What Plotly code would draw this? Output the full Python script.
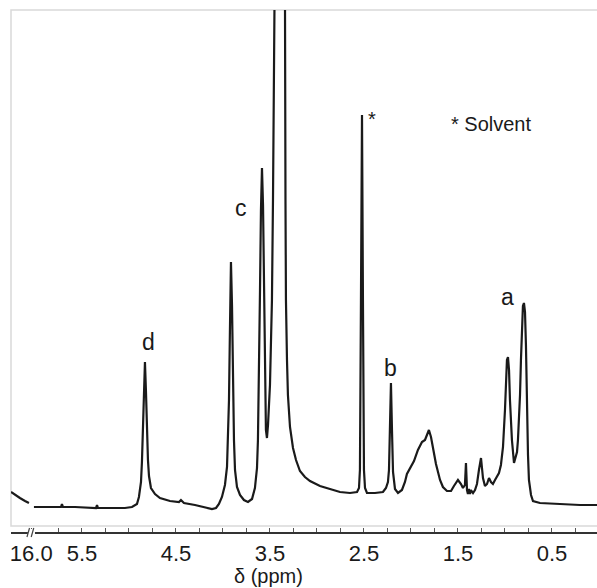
import plotly.graph_objects as go

# ---- data (chemical shift in ppm, intensity in a.u.) ----
ppm = [6.255, 6.213, 6.160, 6.106, 6.064, None,
       6.011, 5.894, 5.787, 5.723, 5.713, 5.702, 5.574, 5.415, 5.351, 5.340, 5.330,
       5.202, 5.043, 4.968, 4.915, 4.894, 4.872, 4.862, 4.851, 4.840, 4.830, 4.819,
       4.809, 4.798, 4.787, 4.766, 4.723, 4.670, 4.564, 4.468, 4.447, 4.415, 4.298,
       4.191, 4.117, 4.074, 4.043, 4.011, 3.979, 3.957, 3.947, 3.936, 3.926, 3.915,
       3.904, 3.894, 3.883, 3.872, 3.851, 3.819, 3.777, 3.734, 3.691, 3.660, 3.638,
       3.628, 3.617, 3.606, 3.596, 3.585, 3.574, 3.564, 3.553, 3.543, 3.532, 3.521,
       3.500, 3.489, 3.479, 3.468, 3.457, 3.447, 3.426, 3.394, 3.362, 3.340, 3.335,
       3.330, 3.319, 3.309, 3.287, 3.255, 3.223, 3.181, 3.128, 3.074, 2.968, 2.862,
       2.755, 2.649, 2.574, 2.553, 2.543, 2.532, 2.521, 2.511, 2.500, 2.489, 2.468,
       2.383, 2.298, 2.266, 2.245, 2.234, 2.223, 2.213, 2.202, 2.191, 2.170, 2.138,
       2.096, 2.064, 2.043, 2.011, 1.968, 1.926, 1.883, 1.851, 1.830, 1.809, 1.787,
       1.766, 1.734, 1.691, 1.660, 1.617, 1.574, 1.543, 1.500, 1.468, 1.447, 1.426,
       1.415, 1.404, 1.394, 1.383, 1.372, 1.362, 1.340, 1.319, 1.298, 1.277, 1.255,
       1.234, 1.213, 1.191, 1.170, 1.149, 1.128, 1.106, 1.085, 1.064, 1.043, 1.021,
       1.000, 0.989, 0.979, 0.968, 0.957, 0.947, 0.936, 0.926, 0.904, 0.894, 0.872,
       0.862, 0.851, 0.840, 0.830, 0.819, 0.809, 0.798, 0.787, 0.777, 0.766, 0.755,
       0.745, 0.723, 0.702, 0.628, 0.415, 0.202, 0.021]

intensity = [13, 10, 7, 4, 2, None,
             -2, -2, -2, -2, 1, -2, -2, -3, -3, 0, -3,
             -3, -3, -2, 1, 8, 23, 43, 77, 115, 143, 113,
             73, 45, 29, 17, 11, 7, 4, 3, 5, 2, 0,
             -2, -4, -3, 1, 8, 20, 38, 65, 105, 175, 243,
             200, 125, 65, 35, 18, 10, 5, 3, 6, 17, 37,
             65, 125, 215, 295, 337, 300, 215, 130, 75, 67, 80,
             120, 160, 205, 305, 405, 495, 805, 1205, 805, 495, 305,
             205, 145, 110, 78, 57, 45, 34, 28, 24, 19, 16,
             13, 12, 13, 17, 35, 205, 390, 205, 35, 17, 12,
             12, 13, 17, 23, 35, 75, 122, 75, 33, 16, 12,
             15, 23, 31, 36, 44, 55, 63, 65, 70, 75, 68,
             57, 41, 25, 18, 14, 14, 19, 25, 21, 17, 20,
             42, 15, 11, 16, 11, 15, 12, 15, 21, 35, 47,
             27, 19, 21, 27, 23, 21, 25, 28, 32, 40, 58,
             95, 125, 145, 148, 135, 105, 80, 65, 42, 45, 53,
             65, 85, 110, 145, 180, 199, 202, 193, 160, 95, 50,
             25, 10, 4, 2, 1, 0, 0]

# ---- axis ticks and labels ----
tick_vals = [6.04, 5.75, 5.5, 5.25, 5.0, 4.75, 4.5, 4.25, 4.0, 3.75, 3.5, 3.25,
             3.0, 2.75, 2.5, 2.25, 2.0, 1.75, 1.5, 1.25, 1.0, 0.75, 0.5, 0.25]
tick_text = ["16.0", "", "5.5", "", "", "", "4.5", "", "", "", "3.5", "",
             "", "", "2.5", "", "", "", "1.5", "", "", "", "0.5", ""]

# ---- peak annotations ----
peak_labels = ["d", "c", "*", "b", "a"]
label_ppm = [4.787, 3.809, 2.415, 2.213, 0.968]
label_int = [163, 297, 386, 137, 208]

FONT = "Liberation Sans, Arial, sans-serif"
INK = "#1a1a1a"

fig = go.Figure()
fig.add_trace(go.Scatter(x=ppm, y=intensity, mode="lines",
                         line=dict(color=INK, width=2.2), connectgaps=False,
                         hoverinfo="skip", showlegend=False))

H_PLOT = 588 - 10 - 55  # paper height in px

# light frame around the plotting region
fig.add_shape(type="rect", xref="paper", yref="paper", x0=0, x1=1.05,
              y0=7 / H_PLOT, y1=1, line=dict(color="#d9d9d9", width=1.5),
              fillcolor="rgba(0,0,0,0)", layer="below")

# axis break symbol
fig.add_shape(type="rect", xref="x", yref="paper", x0=6.075, x1=6.0,
              y0=-4 / H_PLOT, y1=4 / H_PLOT, line=dict(width=0),
              fillcolor="white", layer="above")
fig.add_shape(type="line", xref="x", yref="paper", x0=6.085, x1=6.058,
              y0=-4 / H_PLOT, y1=5 / H_PLOT, line=dict(color="#444", width=1.2),
              layer="above")
fig.add_shape(type="line", xref="x", yref="paper", x0=6.04, x1=6.013,
              y0=-4 / H_PLOT, y1=5 / H_PLOT, line=dict(color="#444", width=1.2),
              layer="above")

for t, xv, yv in zip(peak_labels, label_ppm, label_int):
    fig.add_annotation(x=xv, y=yv, xref="x", yref="y", text=t, showarrow=False,
                       font=dict(family=FONT, size=23 if t != "*" else 20, color=INK),
                       xanchor="center", yanchor="middle")

fig.add_annotation(x=1.149, y=381, xref="x", yref="y", text="* Solvent",
                   showarrow=False, font=dict(family=FONT, size=20, color=INK),
                   xanchor="center", yanchor="middle")

fig.add_annotation(x=3.521, y=-43 / H_PLOT, xref="x", yref="paper", text="δ (ppm)",
                   showarrow=False, font=dict(family=FONT, size=20, color=INK),
                   xanchor="center", yanchor="middle", borderpad=0)

fig.update_layout(
    width=597, height=588,
    margin=dict(l=11, r=0, t=10, b=55, pad=0),
    paper_bgcolor="white", plot_bgcolor="white",
    xaxis=dict(range=[6.255, 0.021], anchor="free", position=0,
               showline=True, linecolor="#333", linewidth=1.5,
               ticks="inside", ticklen=4, tickwidth=1, tickcolor="#555",
               tickvals=tick_vals, ticktext=tick_text, ticklabelstandoff=1,
               tickfont=dict(family=FONT, size=22, color=INK),
               showgrid=False, zeroline=False),
    yaxis=dict(domain=[7 / H_PLOT, 1], range=[-21, 495], visible=False,
               showgrid=False, zeroline=False),
)

fig.write_html("out.html")
